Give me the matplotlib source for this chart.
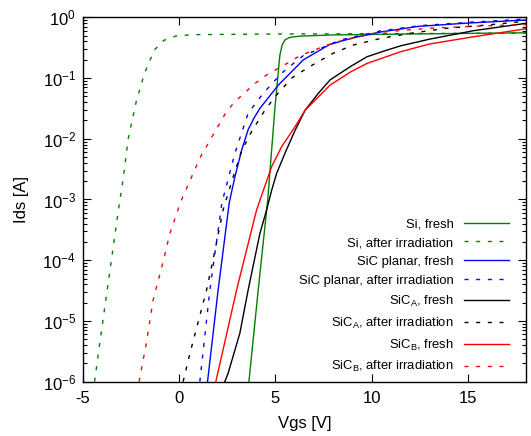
import numpy as np
import matplotlib
matplotlib.use("Agg")
import matplotlib.pyplot as plt
from matplotlib.ticker import FixedLocator, LogLocator, FuncFormatter, NullFormatter

plt.rcParams["font.family"] = ["Liberation Sans", "DejaVu Sans"]
plt.rcParams["mathtext.fontset"] = "custom"
plt.rcParams["mathtext.rm"] = "Liberation Sans"
plt.rcParams["mathtext.it"] = "Liberation Sans"
plt.rcParams["axes.unicode_minus"] = False

# ---- data (Vgs in V, log10 of Ids in A) ----
si_fresh_vgs = [3.62, 4.1, 4.6, 4.97, 5.23, 5.35, 5.5, 5.76, 6.28, 8.0, 12.0, 18.0]
si_fresh_log = [-6.0, -4.5, -3.0, -1.5, -0.62, -0.45, -0.37, -0.33, -0.31, -0.29, -0.275, -0.255]

si_irr_vgs = [-4.4, -4.1, -3.8, -3.5, -3.2, -2.9, -2.65, -2.23, -1.8, -1.3, -0.8, -0.1, 1.0, 5.0, 10.0, 18.0]
si_irr_log = [-6.0, -5.3, -4.62, -3.94, -3.26, -2.63, -2.0, -1.38, -0.92, -0.54, -0.38, -0.30, -0.285, -0.275, -0.27, -0.26]

planar_fresh_vgs = [1.47, 2.02, 2.6, 2.89, 3.24, 3.58, 3.9, 4.19, 5.15, 6.45, 7.8, 9.0, 10.5, 12.4, 15.0, 18.0]
planar_fresh_log = [-6.0, -4.49, -3.05, -2.63, -2.19, -1.85, -1.65, -1.50, -1.115, -0.70, -0.45, -0.34, -0.24, -0.15, -0.095, -0.045]

planar_irr_vgs = [1.07, 1.59, 2.22, 2.89, 3.15, 3.58, 4.37, 5.32, 5.93, 6.45, 7.14, 8.36, 10.44, 12.5, 15.0, 18.0]
planar_irr_log = [-6.0, -4.49, -3.05, -2.24, -1.99, -1.58, -1.25, -0.92, -0.76, -0.63, -0.54, -0.374, -0.226, -0.138, -0.083, -0.03]

sica_fresh_vgs = [2.37, 2.54, 3.15, 3.58, 4.19, 4.54, 4.8, 5.06, 5.49, 6.02, 6.54, 7.23, 7.84, 8.9, 9.75, 10.6, 11.5, 13.0, 15.3, 18.0]
sica_fresh_log = [-6.0, -5.86, -5.2, -4.49, -3.56, -3.17, -2.85, -2.57, -2.24, -1.86, -1.53, -1.25, -1.03, -0.81, -0.65, -0.56, -0.47, -0.36, -0.22, -0.10]

sica_irr_vgs = [0.2, 0.55, 1.42, 1.85, 2.28, 2.8, 3.24, 3.76, 4.45, 4.97, 5.84, 6.33, 7.06, 8.01, 9.05, 10.44, 12.0, 13.92, 16.0, 18.0]
sica_irr_log = [-6.0, -5.54, -4.49, -3.85, -3.17, -2.63, -2.2, -1.88, -1.53, -1.31, -1.0, -0.90, -0.76, -0.59, -0.456, -0.35, -0.264, -0.18, -0.127, -0.065]

sicb_fresh_vgs = [1.9, 2.98, 4.02, 4.37, 4.8, 5.32, 6.02, 6.54, 7.23, 7.84, 8.9, 9.75, 11.5, 13.0, 15.3, 18.0]
sicb_fresh_log = [-6.0, -4.49, -3.17, -2.85, -2.46, -2.13, -1.80, -1.53, -1.31, -1.115, -0.90, -0.76, -0.567, -0.44, -0.32, -0.19]

sicb_irr_vgs = [-2.09, -1.71, -1.36, -0.84, -0.49, 0.11, 1.1, 2.46, 2.89, 3.41, 3.93, 4.54, 5.15, 5.76, 6.28, 8.0, 10.3, 13.0, 15.5, 18.0]
sicb_irr_log = [-6.0, -5.37, -4.66, -4.03, -3.56, -3.01, -2.3, -1.55, -1.39, -1.24, -1.09, -0.95, -0.84, -0.73, -0.63, -0.42, -0.25, -0.18, -0.145, -0.12]

x_ticks = [-5, 0, 5, 10, 15]

curves = [
    (si_fresh_vgs, si_fresh_log, "#008000", "-", "Si, fresh"),
    (si_irr_vgs, si_irr_log, "#008000", "--", "Si, after irradiation"),
    (planar_fresh_vgs, planar_fresh_log, "#0000ff", "-", "SiC planar, fresh"),
    (planar_irr_vgs, planar_irr_log, "#0000ff", "--", "SiC planar, after irradiation"),
    (sica_fresh_vgs, sica_fresh_log, "black", "-", "SiC$_{\\rm A}$, fresh"),
    (sica_irr_vgs, sica_irr_log, "black", "--", "SiC$_{\\rm A}$, after irradiation"),
    (sicb_fresh_vgs, sicb_fresh_log, "#ff0000", "-", "SiC$_{\\rm B}$, fresh"),
    (sicb_irr_vgs, sicb_irr_log, "#ff0000", "--", "SiC$_{\\rm B}$, after irradiation"),
]

W, H = 531, 436
fig = plt.figure(figsize=(W / 100, H / 100), dpi=100)
ax = fig.add_axes([83 / W, 1 - 381.7 / H, (525.7 - 83) / W, (381.7 - 17.3) / H])

for vgs, logs, color, ls, label in curves:
    line, = ax.plot(vgs, 10.0 ** np.array(logs), color=color, lw=1.0, label=label)
    if ls == "--":
        line.set_dashes((2.9, 5.5))

ax.set_yscale("log")
ax.set_xlim(-5, 18)
ax.set_ylim(1e-6, 1)

ax.xaxis.set_major_locator(FixedLocator(x_ticks))
ax.xaxis.set_major_formatter(FuncFormatter(lambda v, p: f"{int(v)}"))
ax.yaxis.set_major_locator(LogLocator(base=10, numticks=10))
ax.yaxis.set_minor_locator(LogLocator(base=10, subs=np.arange(2, 10), numticks=10))
ax.yaxis.set_minor_formatter(NullFormatter())
ax.yaxis.set_major_formatter(
    FuncFormatter(lambda v, p: "10$^{%d}$" % int(round(np.log10(v))))
)

ax.tick_params(which="both", direction="in", top=True, right=True,
               labelsize=12, width=0.8, colors="black")
ax.tick_params(which="major", length=5.8)
ax.tick_params(which="minor", length=3.2)
ax.tick_params(axis="x", which="major", pad=7)
ax.tick_params(axis="y", which="major", pad=5)
for sp in ax.spines.values():
    sp.set_linewidth(1.0)

ax.set_xlabel("Vgs [V]", fontsize=12, labelpad=7)
ax.set_ylabel("Ids [A]", fontsize=12, labelpad=10)

ax.legend(loc="lower right", bbox_to_anchor=(0.963, 0.02), frameon=False,
          markerfirst=False, fontsize=9.4, handlelength=3.5, handletextpad=0.78,
          labelspacing=0.52, borderpad=0, borderaxespad=0)

fig.savefig("out.png", dpi=100)
